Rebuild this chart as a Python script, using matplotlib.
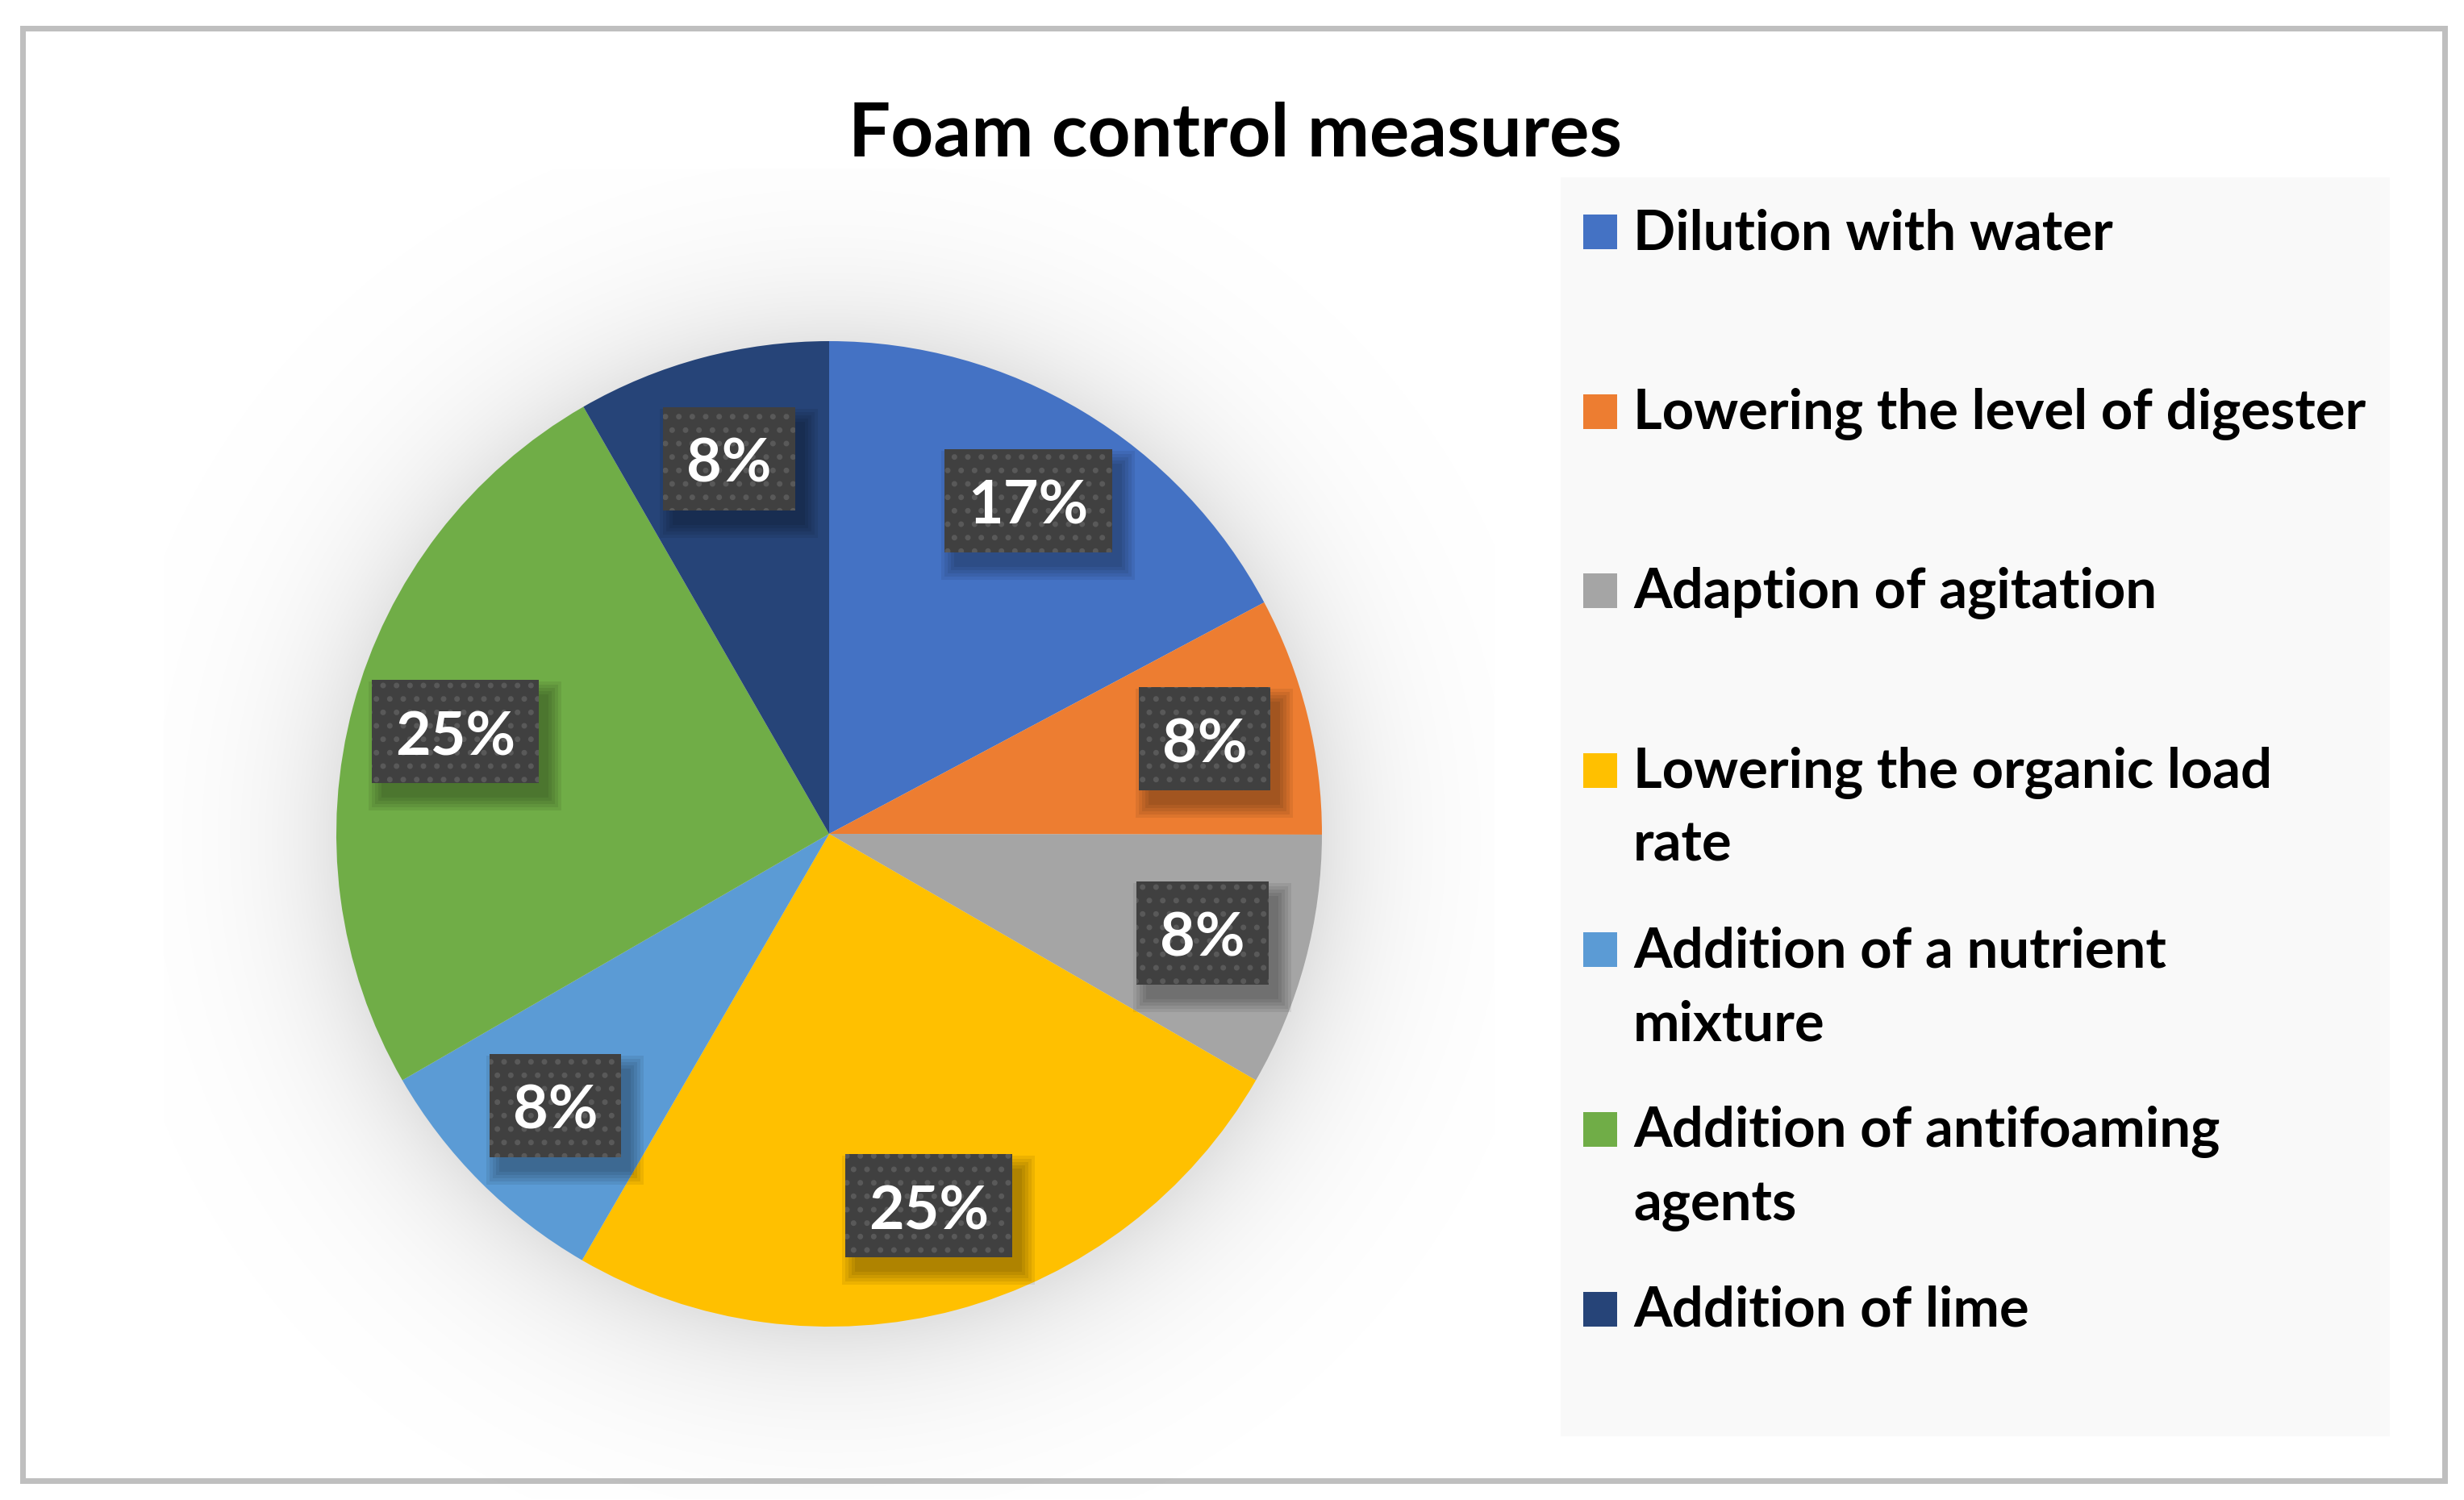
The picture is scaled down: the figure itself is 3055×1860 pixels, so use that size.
import numpy as np
import matplotlib
matplotlib.use('Agg')
import matplotlib.pyplot as plt
from matplotlib.patches import Rectangle
from matplotlib.transforms import offset_copy

# ---------------- data ----------------
categories = ["Dilution with water",
              "Lowering the level of digester",
              "Adaption of agitation",
              "Lowering the organic load\nrate",
              "Addition of a nutrient\nmixture",
              "Addition of antifoaming\nagents",
              "Addition of lime"]
values = [17.2, 7.8, 8.3, 25.0, 8.3, 25.0, 8.3]
colors = ["#4472C4", "#ED7D31", "#A5A5A5", "#FFC000", "#5B9BD5", "#70AD47", "#264478"]
title = "Foam control measures"

# ---------------- setup ----------------
W, H, DPI = 3055, 1860, 100
plt.rcParams['font.family'] = ['Lato', 'DejaVu Sans']
plt.rcParams['hatch.linewidth'] = 2.6

fig = plt.figure(figsize=(W / DPI, H / DPI), dpi=DPI)
fig.patch.set_facecolor('white')


def fx(x):
    return x / W


def fy(y):
    return 1 - y / H


# outer border
fig.add_artist(Rectangle((fx(27.5), fy(1835.5)), fx(3030.5) - fx(27.5), fy(35.5) - fy(1835.5),
                         transform=fig.transFigure, fill=False, edgecolor='#BFBFBF',
                         linewidth=7 * 72 / DPI, zorder=0))
# legend background
fig.add_artist(Rectangle((fx(1935), fy(1781)), fx(2963) - fx(1935), fy(220) - fy(1781),
                         transform=fig.transFigure, facecolor='#F9F9F9', edgecolor='none',
                         zorder=0))

# ---------------- pie ----------------
cx, cy, R = 1028, 1034, 611
L = 1.35
side = 2 * L * R
ax = fig.add_axes([fx(cx - side / 2), fy(cy + side / 2), side / W, side / H])

wedges, texts, autotexts = ax.pie(values, colors=colors, startangle=90, counterclock=False,
                                  autopct='%.0f%%', pctdistance=0.785, radius=1,
                                  wedgeprops=dict(linewidth=0, zorder=1),
                                  textprops=dict(color='white', fontsize=54.3,
                                                 fontweight='bold'))
ax.set_xlim(-L, L)
ax.set_ylim(-L, L)
ax.axis('off')

# soft shadow around the pie
n = 800
g = np.linspace(-L, L, n)
X, Y = np.meshgrid(g, g)
r = np.hypot(X - 0.005, Y + 0.01)
alpha = 0.115 * np.exp(-np.clip(r - 1.0, 0, None) / 0.14)
img = np.zeros((n, n, 4))
img[..., 3] = alpha
ax.imshow(img, extent=(-L, L, -L, L), origin='lower', zorder=0, interpolation='bilinear')

# data label boxes
renderer = fig.canvas.get_renderer()
inv = fig.transFigure.inverted()
for t in autotexts:
    t.set_va('baseline')
    t.set_transform(offset_copy(ax.transData, fig=fig, x=0, y=-27, units='dots'))
    t.set_zorder(4)
    bb = t.get_window_extent(renderer)
    px, py = ax.transData.transform(t.get_position())
    bw, bh = bb.width + 58, 128
    x0, y0 = px - bw / 2, py - bh / 2 + 2
    # shadow
    for k in range(5):
        e = 4 * k
        sx, sy = x0 + 12 - e, y0 - 18 - e
        p0 = inv.transform((sx, sy))
        p1 = inv.transform((sx + bw + 2 * e, sy + bh + 2 * e))
        ax.add_patch(Rectangle(p0, p1[0] - p0[0], p1[1] - p0[1], transform=fig.transFigure,
                               facecolor='black', edgecolor='none', alpha=0.07,
                               zorder=2, clip_on=False))
    p0 = inv.transform((x0, y0))
    p1 = inv.transform((x0 + bw, y0 + bh))
    ax.add_patch(Rectangle(p0, p1[0] - p0[0], p1[1] - p0[1], transform=fig.transFigure,
                           facecolor='#404040', edgecolor='#595959', linewidth=0,
                           hatch='.', zorder=3, clip_on=False))

# ---------------- title ----------------
fig.text(fx(1531), fy(193), title, ha='center', va='baseline', fontsize=66.5,
         fontweight='bold', color='black')

# ---------------- legend ----------------
base0, pitch, line_pitch = 309, 222.6, 91
for i, (lab, c) in enumerate(zip(categories, colors)):
    b = base0 + i * pitch
    fig.add_artist(Rectangle((fx(1963), fy(b)), 42 / W, 43 / H, transform=fig.transFigure,
                             facecolor=c, edgecolor='none', zorder=1))
    for k, line in enumerate(lab.split('\n')):
        fig.text(fx(2025), fy(b + k * line_pitch), line, fontsize=49.5, fontweight='bold',
                 ha='left', va='baseline', color='black')

fig.savefig('out.png', dpi=DPI, facecolor='white')
